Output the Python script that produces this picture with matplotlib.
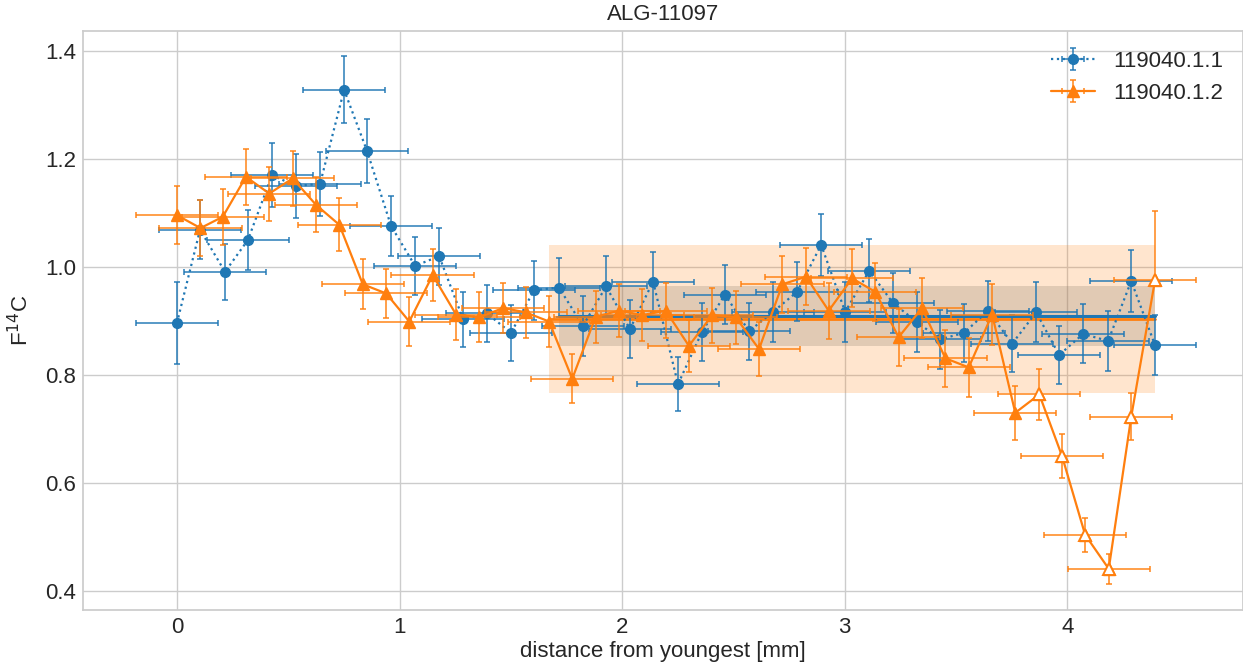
import matplotlib
matplotlib.use('Agg')
import matplotlib.pyplot as plt
import seaborn as sns
import numpy as np

# ---------------- data ----------------
title = "ALG-11097"
label_a = "119040.1.1"
label_b = "119040.1.2"

x_a = [0.000, 0.104, 0.216, 0.319, 0.427, 0.535, 0.643, 0.751, 0.854, 0.962,
       1.070, 1.178, 1.286, 1.393, 1.501, 1.604, 1.716, 1.824, 1.928, 2.035,
       2.139, 2.251, 2.359, 2.462, 2.570, 2.678, 2.786, 2.894, 3.002, 3.110,
       3.217, 3.325, 3.428, 3.536, 3.644, 3.752, 3.860, 3.963, 4.071, 4.183,
       4.287, 4.394]
y_a = [0.896, 1.069, 0.991, 1.050, 1.170, 1.150, 1.154, 1.328, 1.215, 1.076,
       1.002, 1.020, 0.903, 0.914, 0.878, 0.957, 0.962, 0.891, 0.964, 0.885,
       0.973, 0.783, 0.880, 0.949, 0.881, 0.917, 0.954, 1.041, 0.917, 0.993,
       0.933, 0.898, 0.866, 0.878, 0.919, 0.858, 0.916, 0.837, 0.876, 0.863,
       0.974, 0.855]
yerr_a = [0.0765, 0.0546, 0.052, 0.055, 0.059, 0.059, 0.059, 0.062, 0.059, 0.056,
          0.053, 0.053, 0.0515, 0.052, 0.0515, 0.0546, 0.054, 0.0556, 0.056, 0.054,
          0.0556, 0.050, 0.054, 0.055, 0.053, 0.055, 0.0546, 0.058, 0.055, 0.058,
          0.0556, 0.0556, 0.054, 0.054, 0.0556, 0.053, 0.0556, 0.054, 0.0546, 0.055,
          0.058, 0.0556]
xerr_a = [0.184] * len(x_a)

x_b = [0.000, 0.106, 0.206, 0.310, 0.415, 0.520, 0.625, 0.730, 0.835, 0.940,
       1.044, 1.149, 1.254, 1.358, 1.466, 1.567, 1.672, 1.776, 1.881, 1.986,
       2.091, 2.196, 2.300, 2.405, 2.510, 2.615, 2.720, 2.826, 2.928, 3.033,
       3.137, 3.242, 3.347, 3.452, 3.557, 3.662, 3.766, 3.874, 3.976, 4.080,
       4.186, 4.287, 4.394]
y_b = [1.096, 1.072, 1.093, 1.167, 1.136, 1.164, 1.115, 1.078, 0.968, 0.951,
       0.899, 0.985, 0.912, 0.907, 0.924, 0.916, 0.899, 0.793, 0.908, 0.919,
       0.911, 0.919, 0.854, 0.911, 0.907, 0.848, 0.968, 0.982, 0.919, 0.979,
       0.954, 0.870, 0.924, 0.831, 0.814, 0.912, 0.730, 0.764, 0.650, 0.504,
       0.441, 0.723, 0.976]
yerr_b_lo = [0.0537, 0.052, 0.0515, 0.0515, 0.050, 0.051, 0.051, 0.049, 0.046, 0.046,
             0.0457, 0.048, 0.047, 0.046, 0.047, 0.047, 0.048, 0.045, 0.048, 0.049,
             0.048, 0.051, 0.048, 0.051, 0.049, 0.050, 0.053, 0.053, 0.052, 0.054,
             0.054, 0.053, 0.0556, 0.053, 0.054, 0.057, 0.050, 0.047, 0.040, 0.031,
             0.028, 0.044, 0.0]
yerr_b_hi = yerr_b_lo[:-1] + [0.128]
xerr_b = [0.185] * len(x_b)
open_b = [False] * 37 + [True] * 6   # hollow markers for the last six points

# summary bands (mean and spread over the plateau, from index 16 on)
band_start = 16
mean_a, spread_a = 0.910, 0.0555
mean_b, spread_b = 0.9035, 0.1365

# ---------------- plot ----------------
sns.set_theme(style='whitegrid')
plt.rcParams['font.family'] = ['Liberation Sans', 'DejaVu Sans']
plt.rcParams['axes.edgecolor'] = '.8'

c_a = '#1f77b4'
c_b = '#ff7f0e'

fig = plt.figure(figsize=(12.43, 6.65), dpi=100)
ax = fig.add_axes([83 / 1243, 1 - 610 / 665, 1 - 83 / 1243, (610 - 31) / 665])

# bands
xa0, xa1 = x_a[band_start], x_a[-1]
xb0, xb1 = x_b[band_start], x_b[-1]
ax.fill_between([xb0, xb1], mean_b - spread_b, mean_b + spread_b,
                color=c_b, alpha=0.2, lw=0, zorder=1)
ax.fill_between([xa0, xa1], mean_a - spread_a, mean_a + spread_a,
                color='#7a6a5a', alpha=0.22, lw=0, zorder=1.1)
ax.plot([xa0, xa1], [mean_a, mean_a], color=c_a, lw=2.2, zorder=1.5)
ax.plot([xb0, xb1], [mean_b, mean_b], color=c_b, lw=2.0, zorder=1.5)

# series A
ax.errorbar(x_a, y_a, xerr=xerr_a, yerr=yerr_a, fmt='o', ls=':', lw=1.6,
            color=c_a, ms=7, elinewidth=1.4, ecolor=(*matplotlib.colors.to_rgb(c_a), 0.75),
            capsize=2, capthick=1.4, label=label_a, zorder=3)

# series B
ax.errorbar(x_b, y_b, xerr=xerr_b, yerr=[yerr_b_lo, yerr_b_hi], fmt='^', ls='-', lw=1.6,
            color=c_b, ms=8, elinewidth=1.4, ecolor=(*matplotlib.colors.to_rgb(c_b), 0.75),
            capsize=2, capthick=1.4, label=label_b, zorder=3.5)
xo = [x for x, o in zip(x_b, open_b) if o]
yo = [y for y, o in zip(y_b, open_b) if o]
ax.plot(xo, yo, '^', ms=8.5, mfc='white', mec=c_b, mew=1.4, ls='none', zorder=4)

ax.set_xlim(-0.4218, 4.789)
ax.set_ylim(0.3648, 1.437)
ax.set_xticks([0, 1, 2, 3, 4])
ax.set_yticks([0.4, 0.6, 0.8, 1.0, 1.2, 1.4])
ax.tick_params(labelsize=16, colors='.15', length=0, pad=5)
ax.set_title(title, fontsize=16, color='.15', pad=8)
ax.set_xlabel('distance from youngest [mm]', fontsize=16, color='.15')
ax.set_ylabel('F$^{14}$C', fontsize=16, color='.15')
ax.xaxis.set_label_coords(0.5, -0.053)
ax.yaxis.set_label_coords(-0.043, 0.5)
ax.legend(loc='upper right', fontsize=16, frameon=False)

fig.savefig('out.png', dpi=100)
